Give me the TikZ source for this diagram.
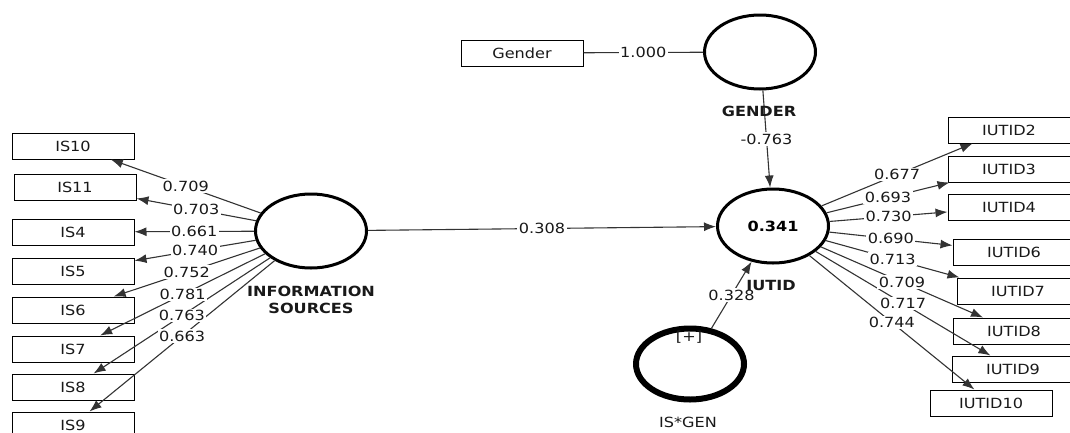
\documentclass[tikz,border=0pt]{standalone}
\usepackage{fontspec}
\setmainfont{DejaVu Sans}[FakeStretch=1.15]
\usetikzlibrary{shapes.geometric, arrows.meta}

\tikzset{
  ind/.style={draw, line width=1pt, minimum width=122pt, minimum height=26pt, inner sep=0pt, text=black!90},
  lat/.style={ellipse, draw, line width=3pt, minimum width=111pt, minimum height=74pt, inner sep=0pt},
  con/.style={draw=black!80, line width=1.1pt},
  pth/.style={con, -{Latex[length=12pt,width=9pt]}},
  lbl/.style={fill=white, inner sep=1.5pt, text=black!90},
  lvname/.style={font=\fontsize{14}{17}\selectfont\bfseries, text=black!90, align=center}
}

\begin{document}
\begin{tikzpicture}[x=1pt, y=-1pt, font=\fontsize{14}{17}\selectfont]
  \useasboundingbox (0,0) rectangle (1070,432);

  % latent variables
  \node[lat] (IS) at (311,231) {};
  \node[lat] (GEN) at (760,52) {};
  \node[lat] (IUTID) at (773,226) {\textbf{0.341}};
  \node[lat, line width=6pt, minimum width=108pt, minimum height=71pt] (ISGEN) at (690,364) {};
  \node[text=black!90] (plus) at (689,337) {[+]};

  % indicators of INFORMATION SOURCES
  \def\islist{IS10/73/146/0.709, IS11/75/187/0.703, IS4/73/232/0.661, IS5/73/271/0.740,
    IS6/73/310/0.752, IS7/73/349/0.781, IS8/73/387/0.763, IS9/73/425/0.663}
  \foreach \nm/\x/\y/\w in \islist {
    \node[ind] (\nm) at (\x,\y) {\nm};
    \draw[pth] (IS) -- (\nm);
  }
  \foreach \nm/\x/\y/\w in \islist
    \path (IS) -- (\nm) node[lbl, pos=0.5] {\w};

  % indicators of IUTID
  \def\iulist{IUTID2/1009/130/0.677/tip2, IUTID3/1009/169/0.693/tip3, IUTID4/1009/207/0.730/IUTID4,
    IUTID6/1014/252/0.690/IUTID6, IUTID7/1018/291/0.713/tip7, IUTID8/1014/331/0.709/IUTID8,
    IUTID9/1013/369/0.717/IUTID9, IUTID10/991/403/0.744/IUTID10}
  \foreach \nm/\x/\y/\w/\tgt in \iulist
    \node[ind] (\nm) at (\x,\y) {\nm};
  \coordinate (tip2) at ([xshift=25pt]IUTID2.south west);
  \coordinate (tip3) at ([xshift=2pt]IUTID3.south west);
  \coordinate (tip7) at ([xshift=3pt]IUTID7.north west);
  \foreach \nm/\x/\y/\w/\tgt in \iulist
    \draw[pth] (IUTID) -- (\tgt);
  \foreach \nm/\x/\y/\w/\tgt in \iulist
    \path (IUTID) -- (\tgt) node[lbl, pos=0.5] {\w};

  % gender
  \node[ind] (Gend) at (522,53) {Gender};
  \draw[con] (Gend) -- (GEN) node[lbl, pos=0.5] {1.000};

  % structural paths
  \draw[pth] (IS) -- (IUTID) node[lbl, pos=0.5] {0.308};
  \draw[pth] (GEN) -- (IUTID) node[lbl, pos=0.5] {-0.763};
  \draw[pth] (ISGEN) -- (IUTID) node[lbl, pos=0.5] {0.328};

  % names
  \node[lvname] (ISname) at (311,300) {INFORMATION\\SOURCES};
  \node[lvname] (GENname) at (759,111) {GENDER};
  \node[lvname] (IUTIDname) at (771,285) {IUTID};
  \node[text=black!90] (ISGENname) at (688,422) {IS*GEN};
\end{tikzpicture}
\end{document}
